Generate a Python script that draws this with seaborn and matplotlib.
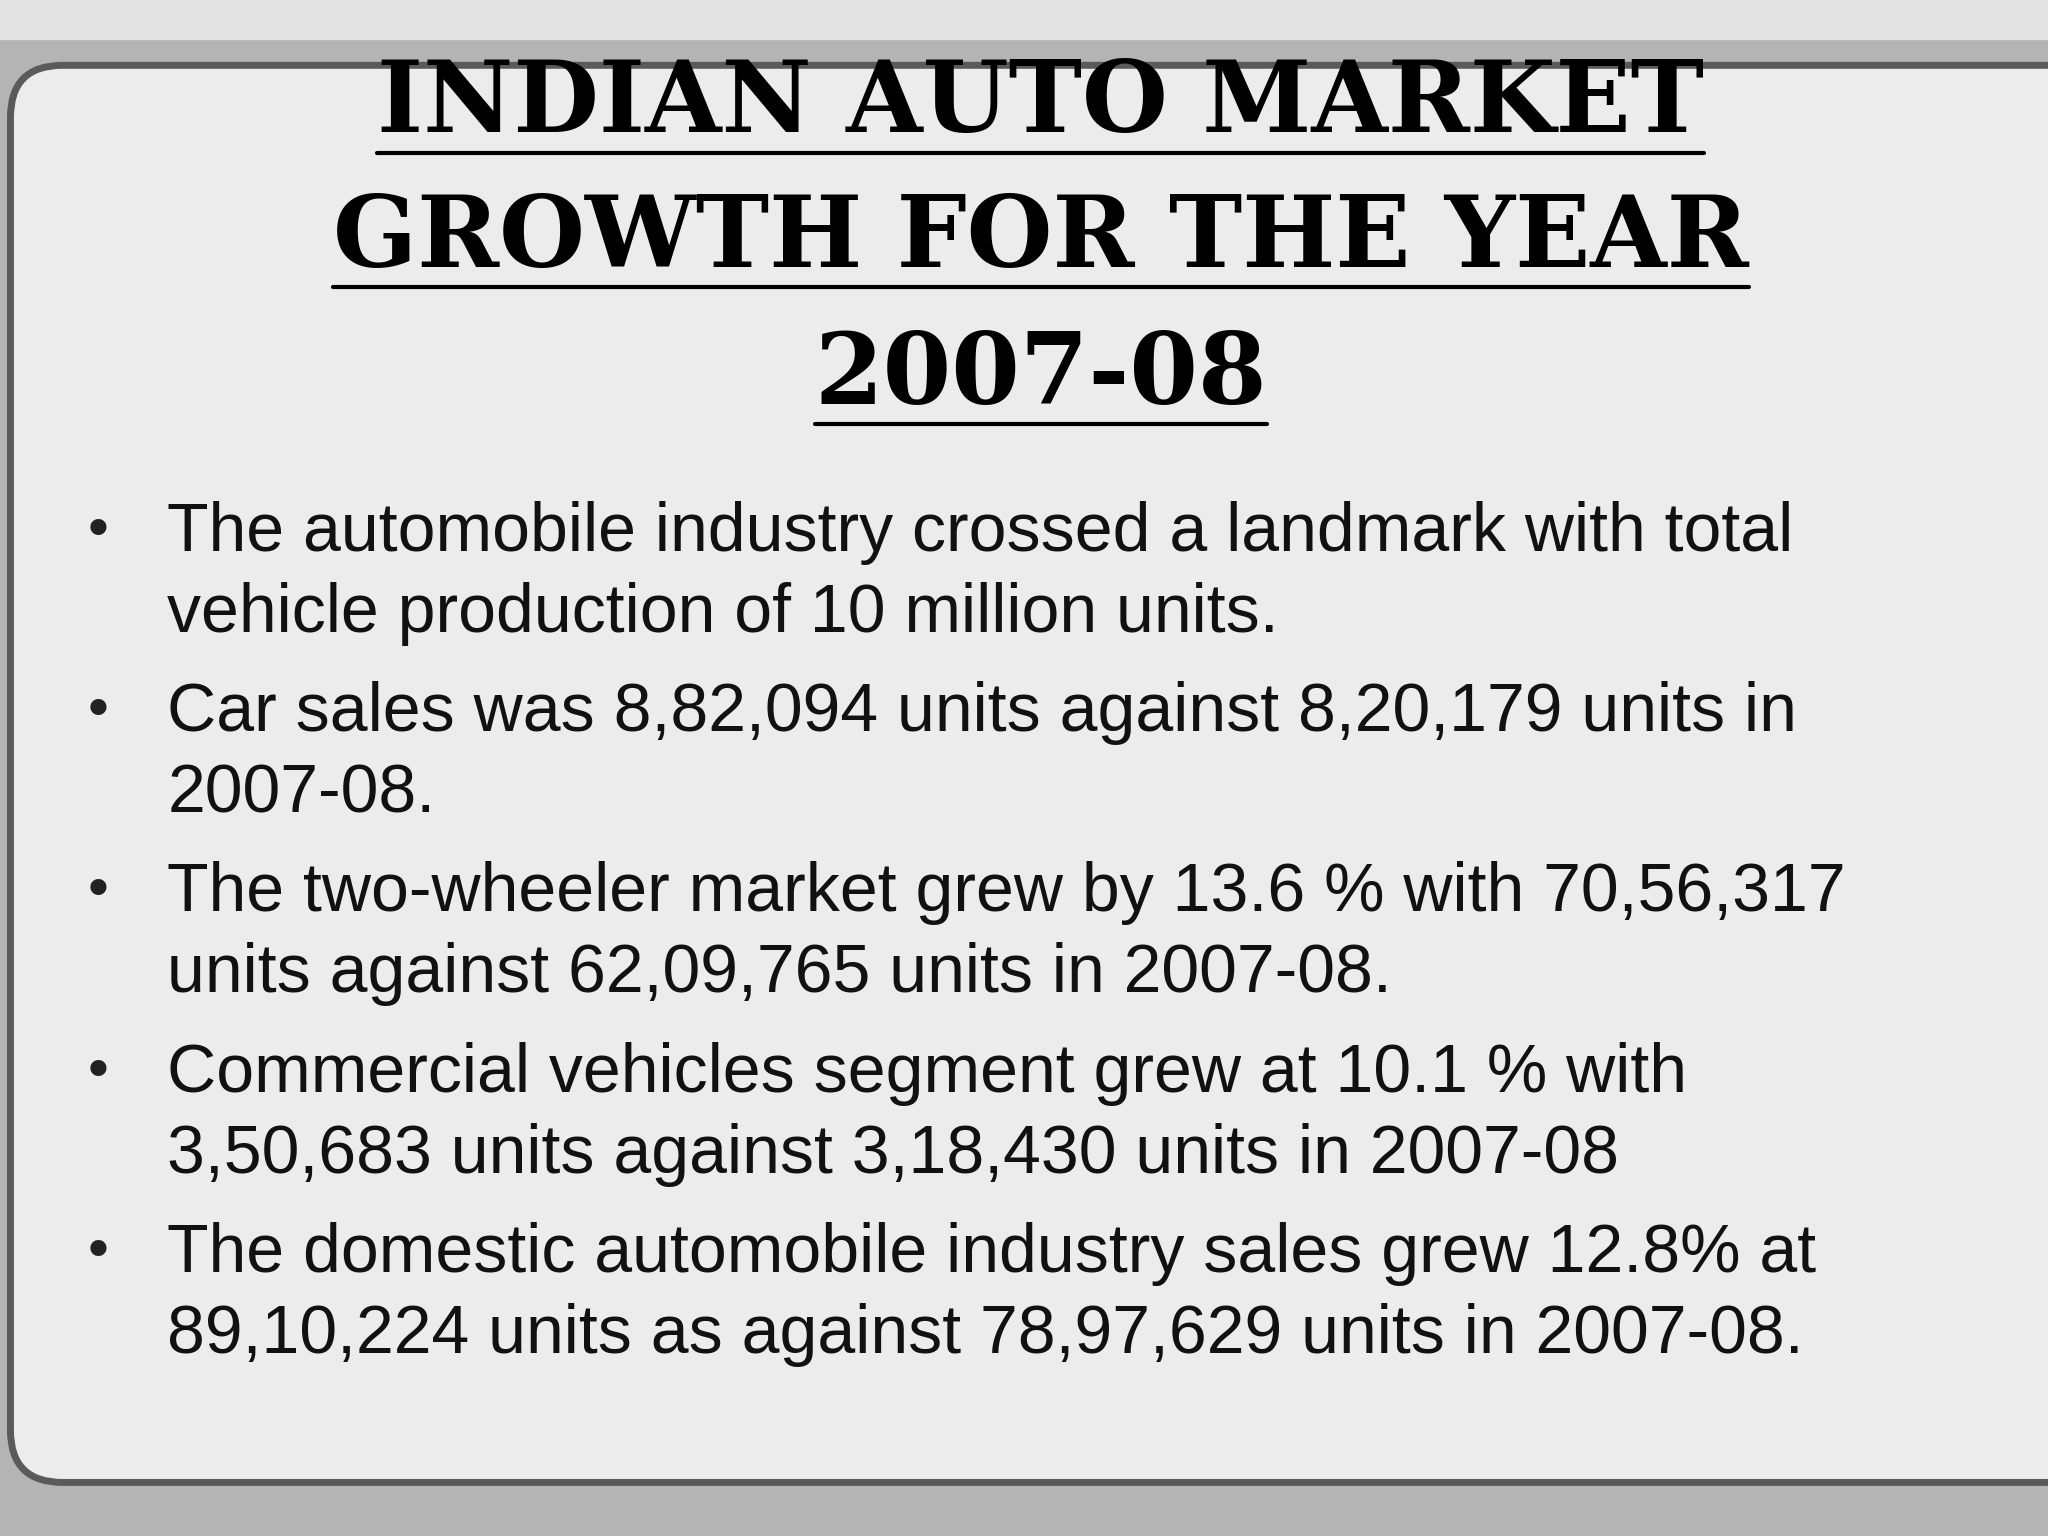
import matplotlib
matplotlib.use("Agg")
import matplotlib.pyplot as plt
from matplotlib.patches import FancyBboxPatch, Rectangle
import seaborn as sns

sns.set_theme(style="white")

title_lines = ["INDIAN AUTO MARKET", "GROWTH FOR THE YEAR", "2007-08"]
bullets = [
    ["The automobile industry crossed a landmark with total",
     "vehicle production of 10 million units."],
    ["Car sales was 8,82,094 units against 8,20,179 units in",
     "2007-08."],
    ["The two-wheeler market grew by 13.6 % with 70,56,317",
     "units against 62,09,765 units in 2007-08."],
    ["Commercial vehicles segment grew at 10.1 % with",
     "3,50,683 units against 3,18,430 units in 2007-08"],
    ["The domestic automobile industry sales grew 12.8% at",
     "89,10,224 units as against 78,97,629 units in 2007-08."],
]

W, H = 1568, 1176
fig = plt.figure(figsize=(20.48, 15.36), dpi=100)
ax = fig.add_axes([0, 0, 1, 1])
ax.set_xlim(0, W)
ax.set_ylim(H, 0)
ax.axis("off")

# frame
ax.add_patch(Rectangle((0, 0), W, H, color="#b4b4b4", zorder=0))
ax.add_patch(Rectangle((0, 0), W, 30, color="#e4e4e4", zorder=0))
ax.add_patch(FancyBboxPatch((8, 50), W + 40, 1085, boxstyle="round,pad=0,rounding_size=40",
                            fc="#ececec", ec="#5a5a5a", lw=5, zorder=1))

# title
title_y = [80, 183, 288]
for line, y in zip(title_lines, title_y):
    t = ax.text(797, y, line, ha="center", va="center", fontsize=71,
                fontweight="heavy", family="DejaVu Serif", color="black", zorder=3)
    fig.canvas.draw()
    bb = t.get_window_extent().transformed(ax.transData.inverted())
    ax.plot([bb.x0, bb.x1], [y + 37, y + 37], color="black", lw=3, zorder=3)

# bullets
y = 408
for item in bullets:
    ax.text(75, y, "\u2022", ha="center", va="center", fontsize=40, color="#222222", zorder=3)
    for line in item:
        ax.text(128, y, line, ha="left", va="center", fontsize=49,
                family="Liberation Sans", color="#111111", zorder=3)
        y += 62
    y += 14

fig.savefig("out.png", dpi=100)
